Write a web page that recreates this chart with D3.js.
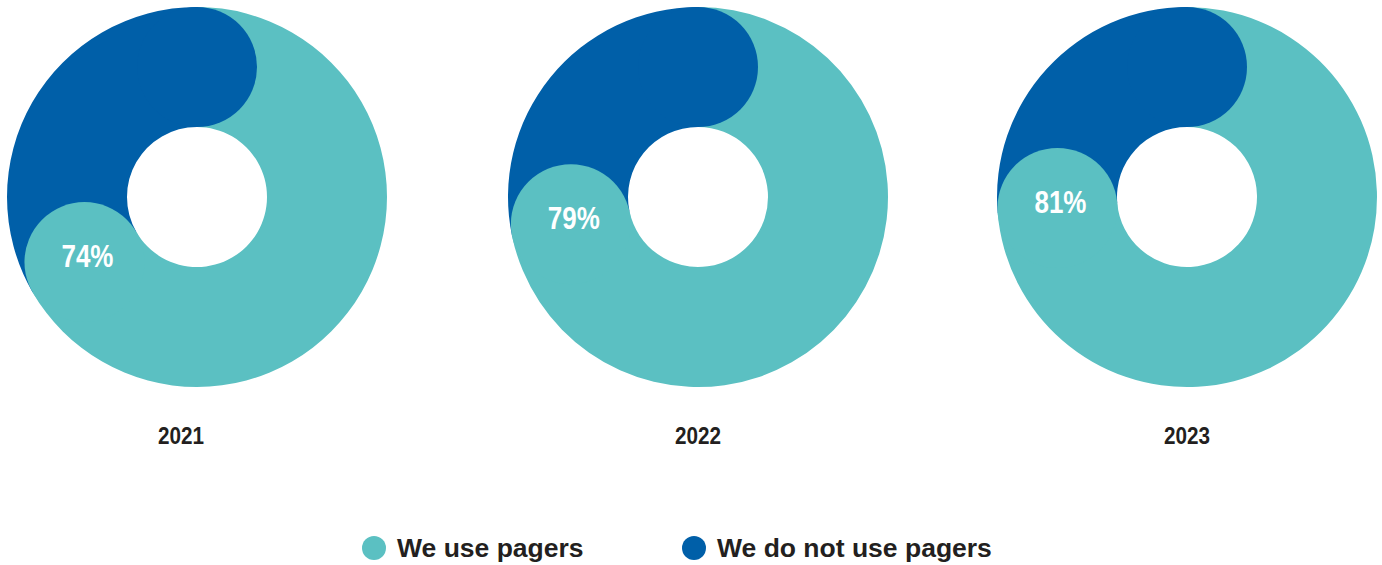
<!DOCTYPE html>
<html>
<head>
<meta charset="utf-8">
<script src="https://cdn.jsdelivr.net/npm/d3@7"></script>
<style>
  html, body { margin: 0; padding: 0; background: #ffffff; }
  svg { display: block; }
</style>
</head>
<body>
<svg id="chart" width="1382" height="565"></svg>
<script>
// Survey results per year (percent of respondents)
const years = ["2021", "2022", "2023"];
const usePagers = [74, 79, 81];
const noPagers = [26, 21, 19];
const seriesNames = ["We use pagers", "We do not use pagers"];
const seriesColors = ["#5bc0c2", "#005fa8"];

const svg = d3.select("#chart");

const outerR = 190, innerR = 70;
const midR = (outerR + innerR) / 2;
const capR = (outerR - innerR) / 2;
const capAngle = capR / midR; // angular half-width of a rounded end

const x = d3.scaleOrdinal().domain(years).range([197, 698, 1187]);
const cy = 197;
const narrowFont = "'Liberation Sans Narrow', 'Liberation Sans', Arial, sans-serif";

const pie = d3.pie().sort(null).value(d => d);
const arc = d3.arc().innerRadius(innerR).outerRadius(outerR);
const polar = a => [midR * Math.sin(a), -midR * Math.cos(a)];

years.forEach((year, i) => {
  const slices = pie([usePagers[i], noPagers[i]]);
  const g = svg.append("g").attr("transform", `translate(${x(year)},${cy})`);

  const tealEnd = slices[0].endAngle - capAngle;   // centre of the rounded end
  const blueEnd = slices[1].endAngle;              // rounds over the start

  // flat bodies
  g.append("path")
    .attr("d", arc({ startAngle: slices[0].startAngle, endAngle: tealEnd }))
    .attr("fill", seriesColors[0]);
  g.append("path")
    .attr("d", arc({ startAngle: tealEnd, endAngle: blueEnd }))
    .attr("fill", seriesColors[1]);

  // rounded ends, each overlapping the following segment
  const [bx, by] = polar(blueEnd);
  g.append("circle").attr("cx", bx).attr("cy", by).attr("r", capR)
    .attr("fill", seriesColors[1]);
  const [tx, ty] = polar(tealEnd);
  g.append("circle").attr("cx", tx).attr("cy", ty).attr("r", capR)
    .attr("fill", seriesColors[0]);

  g.append("text")
    .attr("x", tx + 3)
    .attr("y", ty - 6)
    .attr("text-anchor", "middle")
    .attr("dominant-baseline", "central")
    .attr("font-family", narrowFont)
    .attr("font-weight", "bold")
    .attr("font-size", 32)
    .attr("textLength", 52)
    .attr("lengthAdjust", "spacingAndGlyphs")
    .attr("fill", "#ffffff")
    .text(usePagers[i] + "%");

  svg.append("text")
    .attr("x", x(year) - (i === 0 ? 16 : 0))
    .attr("y", 444)
    .attr("text-anchor", "middle")
    .attr("font-family", narrowFont)
    .attr("font-weight", "bold")
    .attr("font-size", 23)
    .attr("textLength", 46)
    .attr("lengthAdjust", "spacingAndGlyphs")
    .attr("fill", "#231f20")
    .text(year);
});

// Legend
const legendX = [374, 694];
const legend = svg.append("g");
seriesNames.forEach((name, i) => {
  legend.append("circle")
    .attr("cx", legendX[i]).attr("cy", 548).attr("r", 12)
    .attr("fill", seriesColors[i]);
  legend.append("text")
    .attr("x", legendX[i] + 23)
    .attr("y", 557)
    .attr("font-family", "'Liberation Sans', Arial, sans-serif")
    .attr("font-weight", "bold")
    .attr("font-size", 26.5)
    .attr("fill", "#231f20")
    .text(name);
});
</script>
</body>
</html>
